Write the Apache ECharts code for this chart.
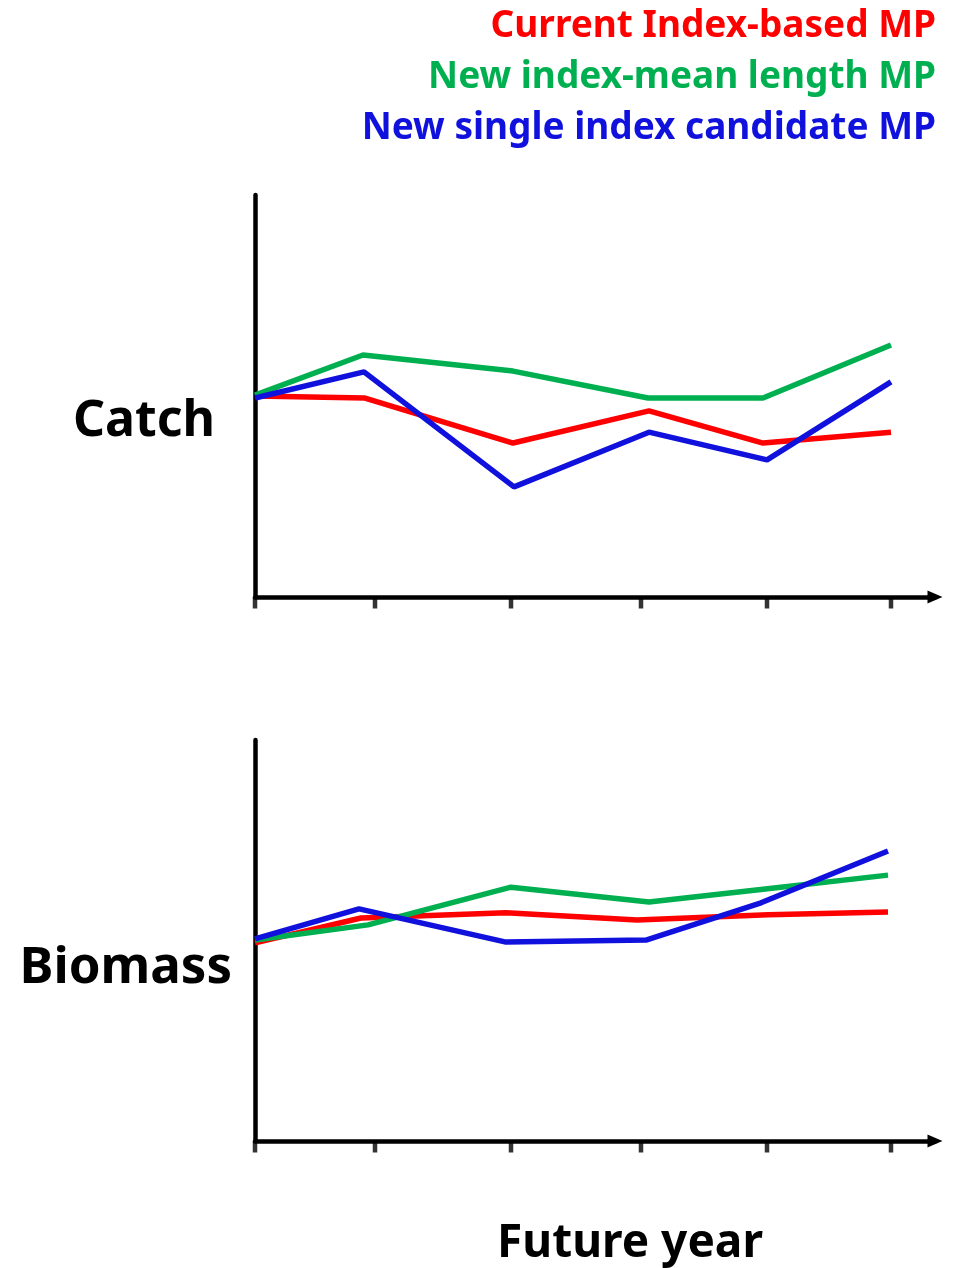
<!DOCTYPE html>
<html>
<head>
<meta charset="utf-8">
<style>
  html, body { margin: 0; padding: 0; background: #fff; }
  #chart { width: 964px; height: 1268px; }
</style>
<script src="https://cdn.jsdelivr.net/npm/echarts@6/dist/echarts.min.js"></script>
</head>
<body>
<div id="chart"></div>
<script>
// series names / colours
var seriesNames = ['Current Index-based MP', 'New index-mean length MP', 'New single index candidate MP'];
var seriesColors = ['#ff0000', '#00b050', '#1111dd'];
var panelNames = ['Catch', 'Biomass'];

// x positions of the future years (unequal spacing)
var tickYears = [0, 120, 256, 386, 512, 636];

// Catch panel
var catchYearsRed   = [0, 110, 258, 394, 508, 636];
var catchYearsGreen = [0, 108, 258, 393, 508, 636];
var catchYearsBlue  = [0, 109, 259, 394, 512, 636];
var catchRed   = [50.0, 49.5, 38.3, 46.3, 38.3, 41.0];
var catchGreen = [50.2, 60.2, 56.2, 49.5, 49.5, 62.7];
var catchBlue  = [49.5, 56.0, 27.4, 41.0, 34.1, 53.5];

// Biomass panel
var bioYearsRed   = [0, 106, 251, 382, 513, 633];
var bioYearsGreen = [0, 113, 256, 394, 508, 633];
var bioYearsBlue  = [0, 104, 251, 391, 506, 633];
var bioRed   = [49.4, 55.6, 56.9, 55.1, 56.4, 57.1];
var bioGreen = [50.1, 53.9, 63.3, 59.6, 62.8, 66.3];
var bioBlue  = [50.4, 57.9, 49.6, 50.1, 59.4, 72.3];

var FONT = '"Noto Sans", "Open Sans", sans-serif';

function pairs(xs, ys) {
    return xs.map(function (x, i) { return [x, ys[i]]; });
}

function lineSeries(idx, xs, ys, color) {
    return {
        name: seriesNames[idx % 3],
        type: 'line',
        xAxisIndex: idx >= 3 ? 1 : 0,
        yAxisIndex: idx >= 3 ? 1 : 0,
        data: pairs(xs, ys),
        symbol: 'none',
        lineStyle: { color: color, width: 5.5 },
        z: 3 + (idx % 3)
    };
}

// tick marks sit at unequal year positions, so draw them as small rects
function tickSeries(axis) {
    return {
        type: 'scatter',
        xAxisIndex: axis,
        yAxisIndex: axis,
        data: tickYears.map(function (x) { return [x, 0]; }),
        symbol: 'rect',
        symbolSize: [4.5, 11],
        symbolOffset: [0, 6],
        itemStyle: { color: '#000' },
        clip: false,
        silent: true,
        z: 10
    };
}

function xAx(grid, extra) {
    var ax = {
        type: 'value',
        gridIndex: grid,
        min: 0,
        max: 680,
        axisLine: {
            show: true,
            symbol: ['none', 'triangle'],
            symbolSize: [13, 15],
            lineStyle: { color: '#000', width: 4.5 }
        },
        axisTick: { show: false },
        axisLabel: { show: false },
        splitLine: { show: false }
    };
    return Object.assign(ax, extra || {});
}

function yAx(grid) {
    return {
        type: 'value',
        gridIndex: grid,
        min: 0,
        max: 100,
        axisLine: { show: true, lineStyle: { color: '#000', width: 4.5 } },
        axisTick: { show: false },
        axisLabel: { show: false },
        splitLine: { show: false }
    };
}

var chart = echarts.init(document.getElementById('chart'));

var legendTexts = seriesNames.map(function (n, i) {
    return {
        type: 'text',
        right: 28,
        top: 8 + i * 51,
        style: {
            text: n,
            fill: seriesColors[i],
            font: 'bold 37px ' + FONT,
            textAlign: 'right'
        }
    };
});

var panelLabels = [
    { type: 'text', x: 215, y: 422, style: { text: panelNames[0], fill: '#000', font: 'bold 50px ' + FONT, textAlign: 'right', textVerticalAlign: 'middle' } },
    { type: 'text', x: 232, y: 968, style: { text: panelNames[1], fill: '#000', font: 'bold 51px ' + FONT, textAlign: 'right', textVerticalAlign: 'middle' } }
];

var option = {
    backgroundColor: '#fff',
    animation: false,
    grid: [
        { left: 255, top: 195, width: 680, height: 402 },
        { left: 255, top: 740, width: 680, height: 401 }
    ],
    xAxis: [
        xAx(0),
        xAx(1, {
            name: 'Future year',
            nameLocation: 'middle',
            nameGap: 80,
            nameTextStyle: {
                fontFamily: FONT,
                fontWeight: 'bold',
                fontSize: 46,
                color: '#000',
                padding: [0, 0, 0, 70]
            }
        })
    ],
    yAxis: [yAx(0), yAx(1)],
    graphic: legendTexts.concat(panelLabels),
    series: [
        lineSeries(0, catchYearsRed, catchRed, seriesColors[0]),
        lineSeries(1, catchYearsGreen, catchGreen, seriesColors[1]),
        lineSeries(2, catchYearsBlue, catchBlue, seriesColors[2]),
        lineSeries(3, bioYearsRed, bioRed, seriesColors[0]),
        lineSeries(4, bioYearsGreen, bioGreen, seriesColors[1]),
        lineSeries(5, bioYearsBlue, bioBlue, seriesColors[2]),
        tickSeries(0),
        tickSeries(1)
    ]
};

chart.setOption(option);
</script>
</body>
</html>
